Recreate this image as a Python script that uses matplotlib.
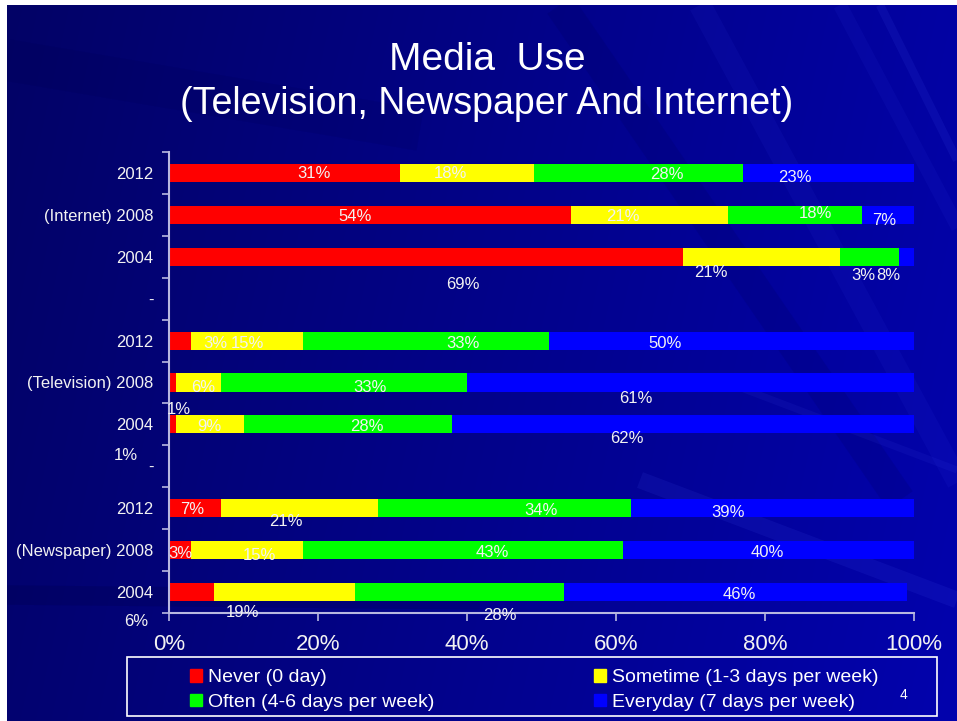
import numpy as np
import matplotlib
matplotlib.use("Agg")
from matplotlib import pyplot as plt
from matplotlib.patches import Patch, Rectangle

plt.rcParams['font.family'] = ['Liberation Sans', 'DejaVu Sans']

# survey rows, top to bottom: Internet, Television, Newspaper (2012, 2008, 2004)
groups = ["Internet", "Television", "Newspaper"]
years = ["2012", "2008", "2004"]
never = [31, 54, 69, 3, 1, 1, 7, 3, 6]
sometime = [18, 21, 21, 15, 6, 9, 21, 15, 19]
often = [28, 18, 8, 33, 33, 28, 34, 43, 28]
everyday = [23, 7, 3, 50, 61, 62, 39, 40, 46]

series_names = ["Never (0 day)", "Sometime (1-3 days per week)",
                "Often (4-6 days per week)", "Everyday (7 days per week)"]
series_colors = ["#FF0000", "#FFFF00", "#00FF00", "#0000FF"]

# where each value label sits relative to its segment centre (pixels, right / down)
off_never = [(30, 1), (-15, 2), (37, 28), (35, 3), (6, 27), (-47, 31), (-3, 1), (0, 3), (-55, 29)]
off_some = [(-17, 1), (-27, 2), (-50, 16), (0, 3), (4, 5), (-1, 2), (-13, 13), (12, 5), (-42, 20)]
off_often = [(29, 2), (21, -1), (19, 19), (37, 3), (26, 5), (19, 2), (37, 2), (29, 2), (40, 23)]
off_every = [(-33, 5), (-4, 6), (-47, 19), (-70, 3), (-58, 16), (-56, 14), (-48, 4), (-5, 2), (4, 2)]

# row positions with an empty row between groups
rows = [g * 4 + i for g in range(len(groups)) for i in range(len(years))]
ylabels = []
for g, name in enumerate(groups):
    ylabels += [years[0], "(%s) %s" % (name, years[1]), years[2]]
    if g < len(groups) - 1:
        ylabels.append("-")

W, H = 957, 721
fig = plt.figure(figsize=(W / 100, H / 100), dpi=100, facecolor="white")

# slide background: navy gradient with a few faint streaks
bg = fig.add_axes([0, 0, 1, 1], zorder=0)
bg.set_xlim(0, W)
bg.set_ylim(H, 0)
bg.axis("off")
yy, xx = np.mgrid[0:H, 0:W]
blue = 0.40 + 0.24 * xx / W + 0.04 * yy / H
img = np.dstack([0.01 + 0 * blue, 0.01 + 0 * blue, blue])
bg.imshow(img, extent=(7, W, H, 5), aspect="auto", zorder=0)
slide = Rectangle((7, 5), W - 7, H - 5, transform=bg.transData)
streaks = [
    ([700, 1000], [5, 560], 16, "#4050ff", 0.07),
    ([840, 1060], [5, 420], 10, "#4050ff", 0.07),
    ([560, 900], [5, 500], 22, "#000040", 0.12),
    ([880, 957], [5, 160], 6, "#5060ff", 0.10),
    ([640, 957], [480, 600], 12, "#5060ff", 0.10),
    ([720, 957], [380, 470], 5, "#5060ff", 0.08),
    ([7, 480], [595, 600], 14, "#000040", 0.20),
    ([7, 420], [60, 130], 30, "#000040", 0.10),
]
for xs, ys, lw, col, a in streaks:
    ln, = bg.plot(xs, ys, lw=lw, color=col, alpha=a, solid_capstyle="butt", zorder=1)
    ln.set_clip_path(slide)

# legend frame and slide number
bg.add_patch(Rectangle((127, 657), 810, 59, fill=False, edgecolor="white", lw=1.2, zorder=2))
fig.text(903 / W, 1 - 695 / H, "4", fontsize=10, color="white", ha="center", va="center")

fig.text(487 / W, 1 - 60 / H, "Media  Use", fontsize=28, color="white", ha="center", va="center")
fig.text(487 / W, 1 - 104 / H, "(Television, Newspaper And Internet)", fontsize=27,
         color="white", ha="center", va="center")

ax = fig.add_axes([169 / W, 1 - 613 / H, 745 / W, 461 / H], zorder=1)
ax.patch.set_alpha(0)

axis_col = "#B8B8E0"
text_col = "#F2F2F2"
left = np.zeros(len(rows))
for vals, offs, col in zip([never, sometime, often, everyday],
                           [off_never, off_some, off_often, off_every], series_colors):
    vals = np.array(vals)
    ax.barh(rows, vals, left=left, height=0.43, color=col, zorder=2)
    for y, l, v, (dx, dy) in zip(rows, left, vals, offs):
        ax.annotate("%d%%" % v, xy=(l + v / 2, y), xytext=(dx, -dy),
                    textcoords="offset pixels", ha="center", va="center",
                    fontsize=12, color=text_col, zorder=3)
    left = left + vals

ax.set_xlim(0, 100)
ax.set_ylim(10.5, -0.5)
ax.set_xticks(range(0, 101, 20))
ax.set_xticklabels(["%d%%" % t for t in range(0, 101, 20)])
ax.set_yticks(range(len(ylabels)))
ax.set_yticklabels(ylabels)
ax.set_yticks(np.arange(-0.5, 10.6, 1), minor=True)
ax.tick_params(axis="y", which="major", length=0, pad=11, labelsize=12, labelcolor=text_col)
ax.tick_params(axis="y", which="minor", length=5, width=1.2, color=axis_col)
ax.tick_params(axis="x", length=6, width=1.2, color=axis_col, pad=9, labelsize=16,
               labelcolor=text_col)
for s in ["top", "right"]:
    ax.spines[s].set_visible(False)
for s in ["left", "bottom"]:
    ax.spines[s].set_color(axis_col)
    ax.spines[s].set_linewidth(1.5)

# legend laid out in two columns inside the frame drawn above
handles = [Patch(color=c) for c in series_colors]
order = [0, 2, 1, 3]
fig.legend([handles[i] for i in order], [series_names[i] for i in order], ncol=2,
           loc="center", bbox_to_anchor=(534 / W, 1 - 690 / H), frameon=False,
           fontsize=14, handlelength=0.62, handleheight=0.62, handletextpad=0.3,
           columnspacing=8.2, labelspacing=0.4, labelcolor="white")

fig.savefig("out.png", dpi=100, facecolor="white")
